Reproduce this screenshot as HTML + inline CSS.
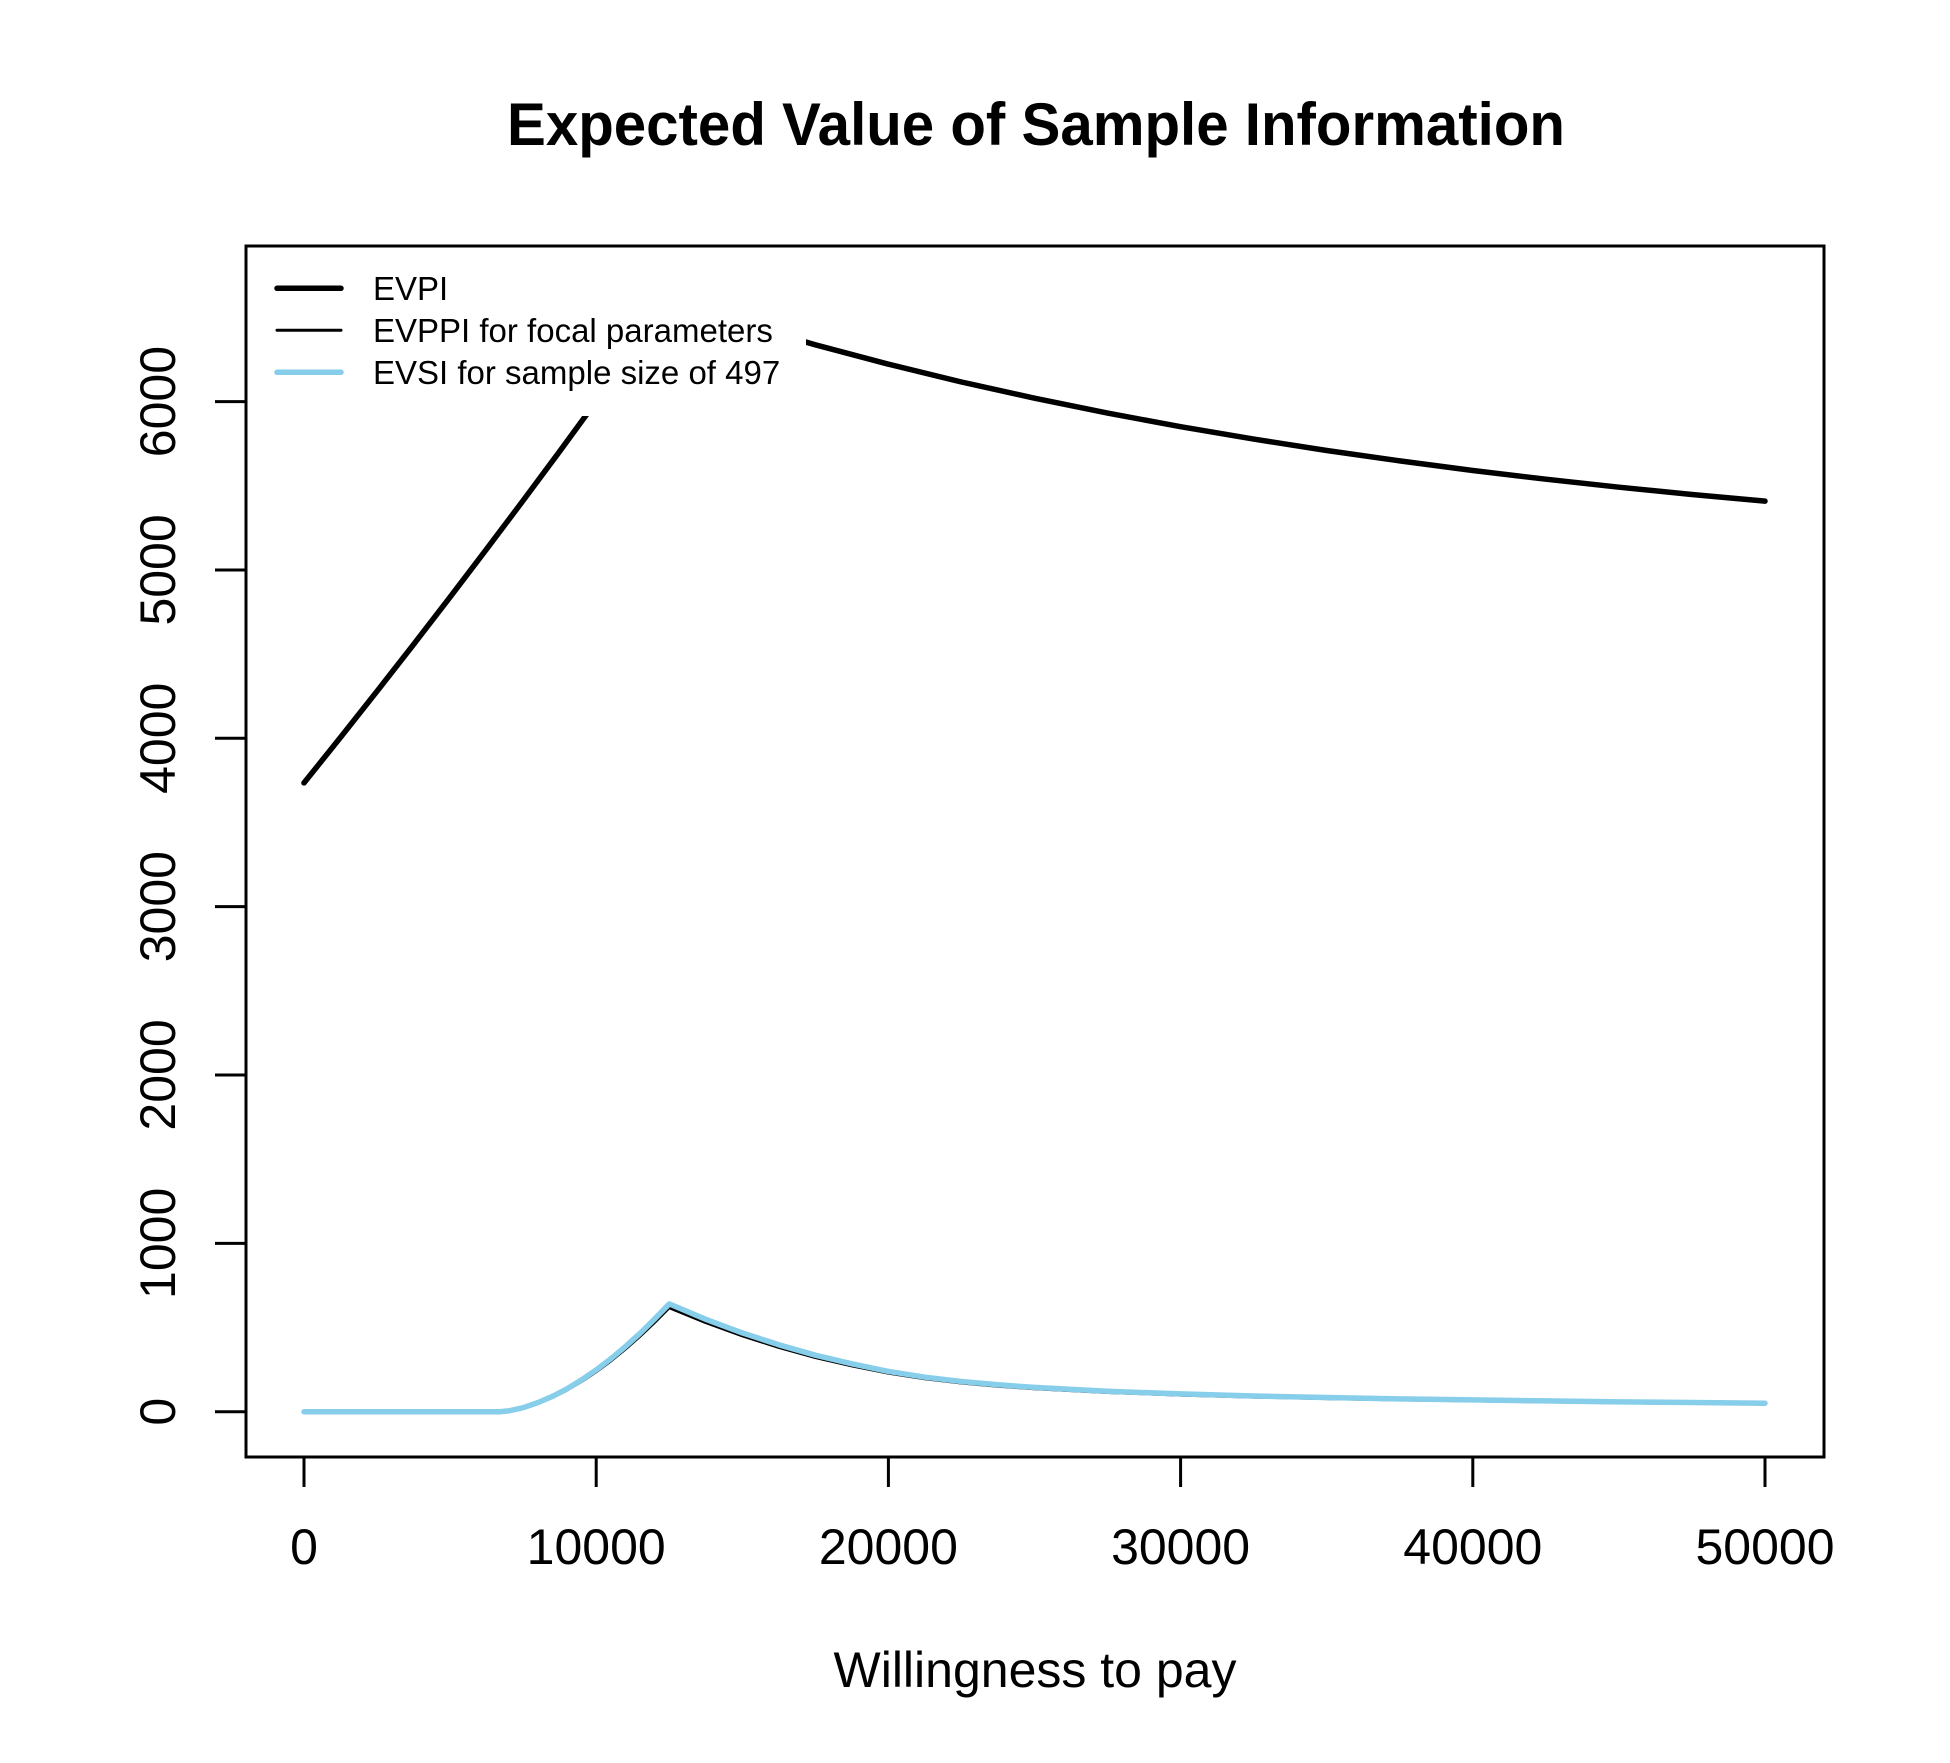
<!DOCTYPE html>
<html>
<head>
<meta charset="utf-8">
<style>
  html, body { margin: 0; padding: 0; background: #ffffff; }
  svg { display: block; }
  text { font-family: "Liberation Sans", Arial, Helvetica, sans-serif; fill: #000; }
</style>
</head>
<body>
<svg width="1950" height="1763" viewBox="0 0 1950 1763" xmlns="http://www.w3.org/2000/svg">
  <rect x="0" y="0" width="1950" height="1763" fill="#ffffff"/>

  <!-- Title -->
  <text x="1036" y="145" font-size="60" font-weight="bold" text-anchor="middle" textLength="1058" lengthAdjust="spacingAndGlyphs">Expected Value of Sample Information</text>

  <!-- Series: EVPI (thick black) -->
  <polyline fill="none" stroke="#000" stroke-width="5.5" stroke-linejoin="round" stroke-linecap="round"
    points="304,782.9 340.5,737.4 377.05,691.2 413.6,644.4 450.1,597.1 486.6,549.1 523.15,500.5 559.7,451.3 596.2,401.4 632.7,351.0 669.25,299.9 742.3,323.6 815.35,344.8 888.4,364.2 961.45,382.0 1034.5,398.2 1107.55,413.1 1180.6,426.7 1253.65,439.1 1326.7,450.5 1399.75,460.9 1472.8,470.5 1545.85,479.2 1618.9,487.2 1691.95,494.5 1765,501.1"/>

  <!-- Series: EVPPI (thin black) -->
  <polyline fill="none" stroke="#000" stroke-width="3" stroke-linejoin="round" stroke-linecap="round"
    points="304,1411.7 499.8,1411.7 508.5,1411.0 523.15,1408.1 537.8,1403.5 552.4,1397.5 567.0,1390.1 581.6,1381.5 596.2,1371.8 610.8,1361.0 625.4,1349.1 640.0,1336.3 654.6,1322.4 669.25,1307.7 705.8,1322.6 742.3,1335.8 778.8,1347.4 815.35,1357.5 851.9,1365.9 888.4,1373.2 924.9,1378.8 961.45,1383.0 998,1386.2 1034.5,1388.8 1107.55,1392.5 1180.6,1395.1 1253.65,1397.1 1326.7,1398.6 1399.75,1399.9 1472.8,1400.9 1545.85,1401.9 1618.9,1402.8 1691.95,1403.4 1765,1404.1"/>

  <!-- Series: EVSI (skyblue) -->
  <polyline fill="none" stroke="#87CEEB" stroke-width="5.5" stroke-linejoin="round" stroke-linecap="round"
    points="304,1411.7 499.8,1411.7 508.5,1410.9 523.15,1407.7 537.8,1402.6 552.4,1396.4 567.0,1388.8 581.6,1379.9 596.2,1369.9 610.8,1358.8 625.4,1346.6 640.0,1333.4 654.6,1319.0 669.25,1303.9 705.8,1319.3 742.3,1332.9 778.8,1344.8 815.35,1355.2 851.9,1363.8 888.4,1371.4 924.9,1377.2 961.45,1381.5 998,1384.8 1034.5,1387.4 1107.55,1391.3 1180.6,1393.9 1253.65,1396.0 1326.7,1397.5 1399.75,1398.9 1472.8,1399.9 1545.85,1400.9 1618.9,1401.9 1691.95,1402.5 1765,1403.2"/>

  <!-- Legend background (white, no border) -->
  <rect x="247.5" y="247.5" width="558.5" height="168.5" fill="#ffffff"/>

  <!-- Legend entries -->
  <line x1="277" y1="288.3" x2="341" y2="288.3" stroke="#000" stroke-width="5.5" stroke-linecap="round"/>
  <line x1="277" y1="330.3" x2="341" y2="330.3" stroke="#000" stroke-width="3" stroke-linecap="round"/>
  <line x1="277" y1="372.3" x2="341" y2="372.3" stroke="#87CEEB" stroke-width="5.5" stroke-linecap="round"/>
  <text x="373" y="300" font-size="33">EVPI</text>
  <text x="373" y="342" font-size="33">EVPPI for focal parameters</text>
  <text x="373" y="384" font-size="33">EVSI for sample size of 497</text>

  <!-- Plot box -->
  <rect x="246" y="246" width="1578" height="1211" fill="none" stroke="#000" stroke-width="3"/>

  <!-- X axis ticks -->
  <g stroke="#000" stroke-width="3" stroke-linecap="butt">
    <line x1="304" y1="1457" x2="304" y2="1487"/>
    <line x1="596.2" y1="1457" x2="596.2" y2="1487"/>
    <line x1="888.4" y1="1457" x2="888.4" y2="1487"/>
    <line x1="1180.6" y1="1457" x2="1180.6" y2="1487"/>
    <line x1="1472.8" y1="1457" x2="1472.8" y2="1487"/>
    <line x1="1765" y1="1457" x2="1765" y2="1487"/>
  </g>
  <g font-size="50" text-anchor="middle">
    <text x="304" y="1564">0</text>
    <text x="596.2" y="1564">10000</text>
    <text x="888.4" y="1564">20000</text>
    <text x="1180.6" y="1564">30000</text>
    <text x="1472.8" y="1564">40000</text>
    <text x="1765" y="1564">50000</text>
  </g>

  <!-- Y axis ticks -->
  <g stroke="#000" stroke-width="3" stroke-linecap="butt">
    <line x1="215" y1="1411.7" x2="246" y2="1411.7"/>
    <line x1="215" y1="1243.35" x2="246" y2="1243.35"/>
    <line x1="215" y1="1075" x2="246" y2="1075"/>
    <line x1="215" y1="906.65" x2="246" y2="906.65"/>
    <line x1="215" y1="738.3" x2="246" y2="738.3"/>
    <line x1="215" y1="569.95" x2="246" y2="569.95"/>
    <line x1="215" y1="401.6" x2="246" y2="401.6"/>
  </g>
  <g font-size="50" text-anchor="middle">
    <text transform="translate(175,1411.7) rotate(-90)">0</text>
    <text transform="translate(175,1243.35) rotate(-90)">1000</text>
    <text transform="translate(175,1075) rotate(-90)">2000</text>
    <text transform="translate(175,906.65) rotate(-90)">3000</text>
    <text transform="translate(175,738.3) rotate(-90)">4000</text>
    <text transform="translate(175,569.95) rotate(-90)">5000</text>
    <text transform="translate(175,401.6) rotate(-90)">6000</text>
  </g>

  <!-- X axis title -->
  <text x="1035" y="1687" font-size="50" text-anchor="middle">Willingness to pay</text>
</svg>
</body>
</html>
